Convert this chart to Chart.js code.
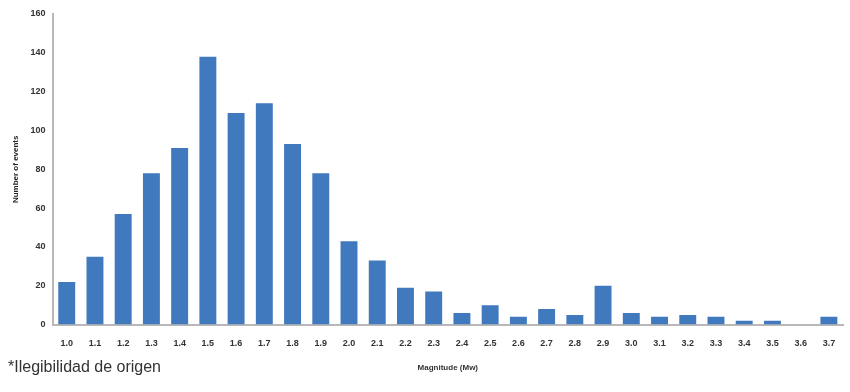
<!DOCTYPE html>
<html>
<head>
<meta charset="utf-8">
<script src="https://cdn.jsdelivr.net/npm/chart.js@4/dist/chart.umd.min.js"></script>
<style>
  body { margin: 0; background: #fff; }
  #wrap { position: relative; width: 850px; height: 392px; }
  #nota {
    position: absolute; left: 8px; top: 358px;
    font-family: Arial, "Liberation Sans", sans-serif; font-size: 16px; color: #333;
  }
</style>
</head>
<body>
<div id="wrap">
  <canvas id="grafico" width="850" height="392"></canvas>
  <div id="nota">*Ilegibilidad de origen</div>
</div>
<script>
const magnitudes = ['1.0','1.1','1.2','1.3','1.4','1.5','1.6','1.7','1.8','1.9',
  '2.0','2.1','2.2','2.3','2.4','2.5','2.6','2.7','2.8','2.9',
  '3.0','3.1','3.2','3.3','3.4','3.5','3.6','3.7'];
const eventos = [22, 35, 57, 78, 91, 138, 109, 114, 93, 78,
  43, 33, 19, 17, 6, 10, 4, 8, 5, 20,
  6, 4, 5, 4, 2, 2, 0, 4];
const ticksY = [0, 20, 40, 60, 80, 100, 120, 140, 160];

const fuente = { family: 'Liberation Sans, Arial, sans-serif', size: 9, weight: 'bold' };

new Chart(document.getElementById('grafico').getContext('2d'), {
  type: 'bar',
  data: {
    labels: magnitudes,
    datasets: [{
      data: eventos,
      backgroundColor: '#4179be',
      barPercentage: 0.6,
      categoryPercentage: 1.0
    }]
  },
  options: {
    responsive: false,
    animation: false,
    layout: { padding: { left: 7, right: 7, top: 14, bottom: 15 } },
    plugins: { legend: { display: false }, tooltip: { enabled: false } },
    scales: {
      x: {
        grid: { display: false, drawTicks: false },
        border: { color: '#b8b8b8', width: 2 },
        ticks: { color: '#333', font: fuente, padding: 14, maxRotation: 0, autoSkip: false },
        title: { display: true, text: 'Magnitude (Mw)', color: '#333', font: { family: fuente.family, size: 8, weight: 'bold' }, padding: { top: 0 } }
      },
      y: {
        min: 0, max: 160,
        afterBuildTicks: (eje) => { eje.ticks = ticksY.map(v => ({ value: v })); },
        grid: { display: false, drawTicks: false },
        border: { color: '#b8b8b8', width: 2 },
        ticks: { color: '#333', font: fuente, padding: 7 },
        title: { display: true, text: 'Number of events', color: '#222', font: { family: fuente.family, size: 8, weight: 'bold' }, padding: { bottom: 3 } }
      }
    }
  }
});
</script>
</body>
</html>
